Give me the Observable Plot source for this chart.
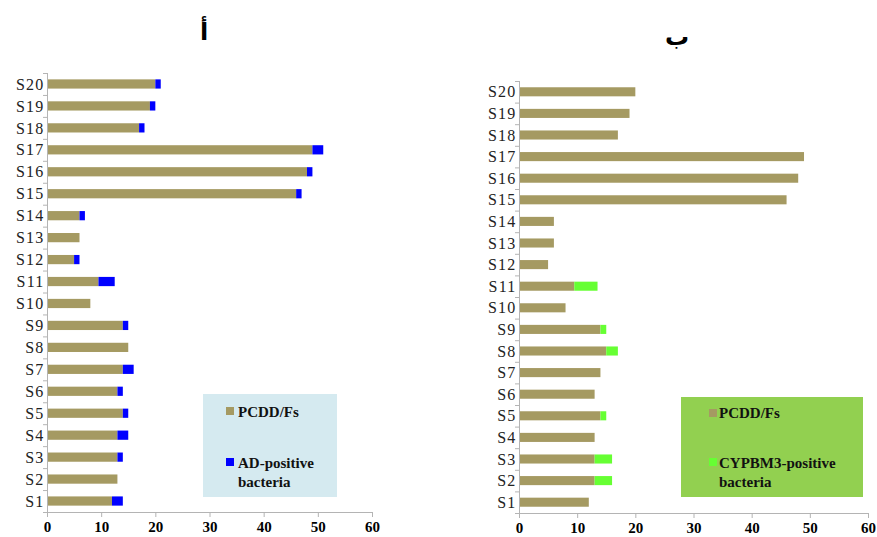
<!DOCTYPE html>
<html>
<head>
<meta charset="utf-8">
<script src="https://cdn.jsdelivr.net/npm/d3@7"></script>
<script src="https://cdn.jsdelivr.net/npm/@observablehq/plot@0.6"></script>
<style>
  html, body { margin: 0; padding: 0; background: #fff; }
  #wrap { position: relative; width: 877px; height: 537px; overflow: hidden; font-family: "Liberation Serif", "Times New Roman", serif; }
  .panel { position: absolute; top: 0; }
  .title { position: absolute; font-family: "DejaVu Sans", sans-serif; font-weight: bold; font-size: 24px; line-height: 1; transform: translateX(-50%); color: #000; }
  .legend { position: absolute; }
  .sw { position: absolute; width: 8px; height: 8px; }
  .lt { position: absolute; font-family: "Liberation Serif", "Times New Roman", serif; font-weight: bold; font-size: 15px; line-height: 19px; color: #111; white-space: nowrap; }
  g[aria-label="y-axis tick label"] text { letter-spacing: 1.2px; }
</style>
</head>
<body>
<div id="wrap"></div>
<script>
// ---- data ----
const categories = ["S1","S2","S3","S4","S5","S6","S7","S8","S9","S10","S11","S12","S13","S14","S15","S16","S17","S18","S19","S20"];
const pcddA = [12,13,13,13,14,13,14,15,14,8,9.5,5,6,6,46,48,49,17,19,20];
const adBacteria = [2,0,1,2,1,1,2,0,1,0,3,1,0,1,1,1,2,1,1,1];
const pcddB = [12,13,13,13,14,13,14,15,14,8,9.5,5,6,6,46,48,49,17,19,20];
const cypBacteria = [0,3,3,0,1,0,0,2,1,0,4,0,0,0,0,0,0,0,0,0];
const xTicks = [0,10,20,30,40,50,60];
const seriesA = ["PCDD/Fs", "AD-positive bacteria"];
const seriesB = ["PCDD/Fs", "CYPBM3-positive bacteria"];
const titleA = "أ";
const titleB = "ب";

const tan = "#a59a62";
const blue = "#0000ff";
const green = "#66ff33";
const axisGray = "#b4b4b4";

function rowsFor(pcdd, bact, names) {
  const rows = [];
  categories.forEach((c, i) => {
    rows.push({cat: c, k: i, series: names[0], x1: 0, x2: pcdd[i]});
    rows.push({cat: c, k: i, series: names[1], x1: pcdd[i], x2: pcdd[i] + bact[i]});
  });
  return rows;
}

function panel({pcdd, bact, names, bactColor, width, marginLeft, marginRight, marginTop, marginBottom}) {
  const rows = rowsFor(pcdd, bact, names);
  return Plot.plot({
    width, height: 537, marginLeft, marginRight, marginTop, marginBottom,
    x: {domain: [0, 60]},
    y: {domain: [0, categories.length]},
    color: {domain: names, range: [tan, bactColor]},
    style: {fontFamily: "'Liberation Serif', 'Times New Roman', serif", background: "transparent", overflow: "visible"},
    marks: [
      Plot.rectX(rows.filter(d => d.x2 > d.x1), {x1: "x1", x2: "x2", y1: d => d.k + 0.29, y2: d => d.k + 0.71, fill: "series"}),
      Plot.ruleX([0], {stroke: axisGray}),
      Plot.ruleY([0], {stroke: axisGray}),
      Plot.axisX({ticks: xTicks, tickSize: 5, tickPadding: 4, stroke: axisGray, fill: "#000", fontSize: 15, fontWeight: "bold", tickFormat: d => String(d)}),
      Plot.axisY({ticks: d3.range(categories.length + 1), tickSize: 4, tickFormat: () => "", stroke: axisGray}),
      Plot.axisY({ticks: d3.range(categories.length).map(i => i + 0.5), tickSize: 0, tickPadding: 3, fill: "#222", fontSize: 16, tickFormat: d => categories[Math.floor(d)]})
    ]
  });
}

const wrap = document.getElementById("wrap");

const left = panel({pcdd: pcddA, bact: adBacteria, names: seriesA, bactColor: blue, width: 440, marginLeft: 47, marginRight: 68, marginTop: 73, marginBottom: 25});
left.classList.add("panel"); left.style.left = "0px";
wrap.appendChild(left);

const right = panel({pcdd: pcddB, bact: cypBacteria, names: seriesB, bactColor: green, width: 437, marginLeft: 79, marginRight: 9, marginTop: 81, marginBottom: 24});
right.classList.add("panel"); right.style.left = "440px";
wrap.appendChild(right);

function addTitle(text, cx, top) {
  const t = document.createElement("div");
  t.className = "title"; t.textContent = text; t.dir = "rtl";
  t.style.left = cx + "px"; t.style.top = top + "px";
  wrap.appendChild(t);
}
addTitle(titleA, 204, 20);
addTitle(titleB, 677, 25);

function addLegend({x, y, w, h, bg, colors, sx, tx, rows}) {
  const box = document.createElement("div");
  box.className = "legend";
  Object.assign(box.style, {left: x + "px", top: y + "px", width: w + "px", height: h + "px", background: bg});
  wrap.appendChild(box);
  rows.forEach((r, i) => {
    const sw = document.createElement("div");
    sw.className = "sw";
    Object.assign(sw.style, {left: (sx - x) + "px", top: (r.sy - y) + "px", background: colors[i]});
    box.appendChild(sw);
    r.lines.forEach((line, j) => {
      const tdiv = document.createElement("div");
      tdiv.className = "lt";
      tdiv.textContent = line;
      Object.assign(tdiv.style, {left: (tx - x) + "px", top: (r.ty - y + j * 19) + "px"});
      box.appendChild(tdiv);
    });
  });
}

addLegend({x: 203, y: 394, w: 134, h: 103, bg: "#d5eaf0", colors: [tan, blue], sx: 226, tx: 238,
  rows: [{sy: 407, ty: 403, lines: [seriesA[0]]}, {sy: 458, ty: 454, lines: ["AD-positive", "bacteria"]}]});
addLegend({x: 681, y: 397, w: 182, h: 100, bg: "#92d050", colors: [tan, green], sx: 709, tx: 719,
  rows: [{sy: 409, ty: 404, lines: [seriesB[0]]}, {sy: 458, ty: 454, lines: ["CYPBM3-positive", "bacteria"]}]});
</script>
</body>
</html>
